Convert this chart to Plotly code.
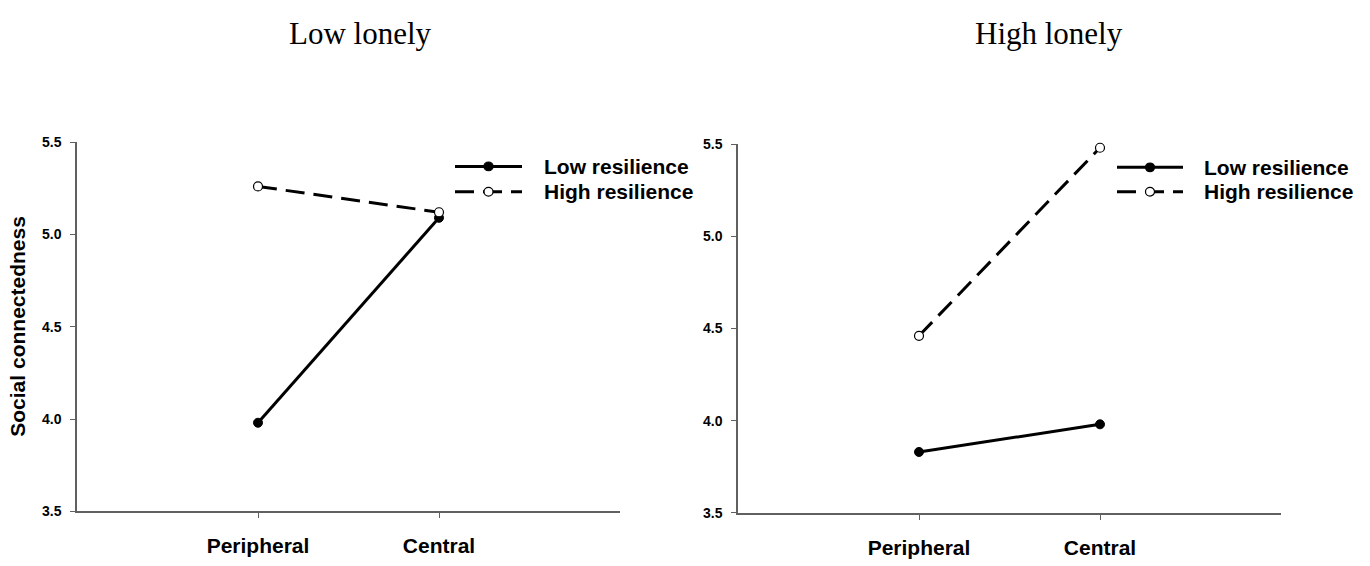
import plotly.graph_objects as go

W, H = 1370, 566

categories = ["Peripheral", "Central"]
low_lonely_low_res = [3.98, 5.09]
low_lonely_high_res = [5.26, 5.12]
high_lonely_low_res = [3.83, 3.98]
high_lonely_high_res = [4.46, 5.48]
y_ticks = [3.5, 4.0, 4.5, 5.0, 5.5]
series_names = ["Low resilience", "High resilience"]
panel_titles = ["Low lonely", "High lonely"]

SANS = "Liberation Sans, Arial, sans-serif"
SERIF = "Liberation Serif, Times New Roman, serif"
BOLD_SIZE = 21


def px(x):
    return x / W


def py(y):
    return 1 - y / H


fig = go.Figure()

panels = [
    ("x", "y", low_lonely_low_res, low_lonely_high_res),
    ("x2", "y2", high_lonely_low_res, high_lonely_high_res),
]
for xa, ya, lo, hi in panels:
    fig.add_trace(go.Scatter(
        x=categories, y=lo, xaxis=xa, yaxis=ya, mode="lines+markers",
        name=series_names[0], showlegend=False, cliponaxis=False,
        line=dict(color="black", width=3),
        marker=dict(color="black", size=9, line=dict(color="black", width=1)),
    ))
    fig.add_trace(go.Scatter(
        x=categories, y=hi, xaxis=xa, yaxis=ya, mode="lines+markers",
        name=series_names[1], showlegend=False, cliponaxis=False,
        line=dict(color="black", width=3, dash="19px,9px"),
        marker=dict(color="white", size=9, line=dict(color="black", width=1.2)),
    ))

xcommon = dict(
    type="category", range=[-1, 2], showline=True, linecolor="#606060", linewidth=1.5,
    ticks="outside", ticklen=5, tickcolor="#606060", tickwidth=1,
    showgrid=False, zeroline=False, ticklabelstandoff=10,
    tickfont=dict(family=SANS, size=BOLD_SIZE, color="black", weight="bold"),
)
ycommon = dict(
    range=[3.5, 5.5], tickvals=y_ticks, tickformat=".1f",
    showline=True, linecolor="#606060", linewidth=1.5,
    ticks="outside", ticklen=5, tickcolor="#606060", tickwidth=1,
    showgrid=False, zeroline=False, ticklabelstandoff=6,
    tickfont=dict(family=SANS, size=14, color="black", weight="bold"),
)

fig.update_layout(
    width=W, height=H, margin=dict(l=0, r=0, t=0, b=0),
    paper_bgcolor="white", plot_bgcolor="white", showlegend=False,
    xaxis=dict(domain=[px(77), px(620)], anchor="y", **xcommon),
    yaxis=dict(domain=[py(518), py(138)], anchor="x", **ycommon),
    xaxis2=dict(domain=[px(738), px(1281)], anchor="y2", **xcommon),
    yaxis2=dict(domain=[py(519.5), py(140)], anchor="x2", **ycommon),
)

annotations = [
    dict(text=panel_titles[0], x=px(361), y=py(26), xref="paper", yref="paper",
         showarrow=False, xanchor="center", yanchor="middle",
         font=dict(family=SERIF, size=31, color="black")),
    dict(text=panel_titles[1], x=px(1049), y=py(26), xref="paper", yref="paper",
         showarrow=False, xanchor="center", yanchor="middle",
         font=dict(family=SERIF, size=31, color="black")),
    dict(text="Social connectedness", x=px(18), y=py(328), xref="paper", yref="paper",
         showarrow=False, xanchor="center", yanchor="middle", textangle=-90,
         font=dict(family=SANS, size=BOLD_SIZE, color="black", weight="bold")),
]

shapes = []
# manual legends
for (lx0, lx1, tx, r1, r2) in [(455, 522, 542, 163, 189), (1117, 1183, 1202, 164, 189)]:
    mx = (lx0 + lx1) / 2
    shapes.append(dict(type="line", xref="paper", yref="paper",
                       x0=px(lx0), x1=px(lx1), y0=py(r1), y1=py(r1),
                       line=dict(color="black", width=3)))
    shapes.append(dict(type="line", xref="paper", yref="paper",
                       x0=px(lx0), x1=px(lx1), y0=py(r2), y1=py(r2),
                       line=dict(color="black", width=3, dash="19px,9px")))
    for (r, fill) in [(r1, "black"), (r2, "white")]:
        shapes.append(dict(type="circle", xref="paper", yref="paper",
                           x0=px(mx - 4.5), x1=px(mx + 4.5), y0=py(r - 4.5), y1=py(r + 4.5),
                           fillcolor=fill, line=dict(color="black", width=1.2), layer="above"))
    for (r, name) in [(r1, series_names[0]), (r2, series_names[1])]:
        annotations.append(dict(text=name, x=px(tx), y=py(r), xref="paper", yref="paper",
                                showarrow=False, xanchor="left", yanchor="middle",
                                font=dict(family=SANS, size=BOLD_SIZE, color="black", weight="bold")))

fig.update_layout(annotations=annotations, shapes=shapes)

fig.write_html(
    "out.html",
    config={"displayModeBar": False},
    post_script="document.body.style.margin='0';document.body.style.overflow='hidden';",
)
